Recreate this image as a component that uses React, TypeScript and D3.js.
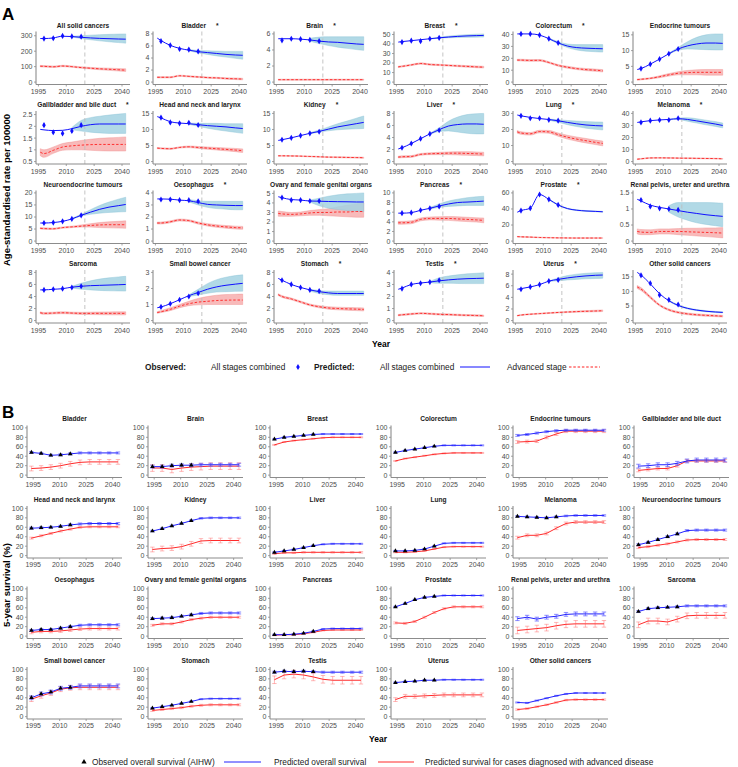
import React from 'react';
import * as d3 from 'd3';

const W = 738;
const H = 767;
const NARROW = '"Liberation Sans Narrow", "Arial Narrow", "Liberation Sans", Arial, sans-serif';
const SANS = '"Liberation Sans", Arial, sans-serif';

// ---------- Panel A: age-standardised incidence ----------
const A_NAMES = [
  'All solid cancers', 'Bladder', 'Brain', 'Breast', 'Colorectum', 'Endocrine tumours',
  'Gallbladder and bile duct', 'Head and neck and larynx', 'Kidney', 'Liver', 'Lung', 'Melanoma',
  'Neuroendocrine tumours', 'Oesophagus', 'Ovary and female genital organs', 'Pancreas', 'Prostate', 'Renal pelvis, ureter and urethra',
  'Sarcoma', 'Small bowel cancer', 'Stomach', 'Testis', 'Uterus', 'Other solid cancers',
];
const A_STAR = [0, 1, 1, 1, 1, 0, 1, 0, 1, 1, 1, 1, 0, 1, 0, 1, 1, 0, 0, 0, 1, 1, 1, 0];
const A_TICKS = [
  [0, 100, 200, 300], [0, 2, 4, 6, 8], [0, 2, 4, 6], [0, 10, 20, 30, 40, 50], [0, 10, 20, 30, 40], [0, 5, 10, 15],
  [0.5, 1, 1.5, 2, 2.5], [0, 5, 10, 15], [0, 5, 10, 15], [0, 2, 4, 6, 8], [0, 10, 20, 30], [0, 10, 20, 30, 40],
  [0, 5, 10, 15, 20], [0, 1, 2, 3, 4], [0, 1, 2, 3, 4, 5], [0, 2, 4, 6, 8, 10], [0, 20, 40, 60], [0, 0.5, 1, 1.5],
  [0, 2, 4, 6, 8], [0, 1, 2, 3], [0, 2, 4, 6, 8], [0, 1, 2, 3, 4], [0, 2, 4, 6, 8], [0, 5, 10, 15],
];
const A_YLO = [0, 0, 0, 0, 0, 0, 0.5, 0, 0, 0, 0, 0, 0, 0, 0, 0, 0, 0, 0, 0, 0, 0, 0, 0];
const A_YEARS = [1996, 1998, 2003, 2008, 2013, 2018, 2023, 2028, 2033, 2038, 2042];
const A_BAND_YEARS = [2013, 2018, 2023, 2028, 2033, 2038, 2042];
const A_OBS_YEARS = [1998, 2003, 2008, 2013, 2018];
const A_CUT_YEAR = 2020;
const A_XTICKS = [1995, 2010, 2025, 2040];

const A_BLUE = [
  [282, 282, 286, 297, 295, 290, 286, 283, 281, 279, 278],
  [7.3, 6.9, 6.1, 5.6, 5.3, 5.05, 4.9, 4.75, 4.6, 4.5, 4.45],
  [5.4, 5.4, 5.4, 5.35, 5.25, 5.1, 5.0, 4.95, 4.85, 4.75, 4.7],
  [42, 42.5, 43.5, 44.5, 45.5, 46.5, 47.3, 48, 48.5, 48.8, 49],
  [40.5, 40.5, 40.5, 39.5, 36.5, 33, 30.3, 29, 28.5, 28.2, 28],
  [4, 4.3, 5.7, 7.3, 9, 10.5, 11.5, 12.1, 12.4, 12.4, 12.3],
  [1.87, 1.85, 1.82, 1.83, 1.9, 2.0, 2.07, 2.1, 2.1, 2.1, 2.1],
  [14, 13.6, 12.4, 12, 11.8, 11.5, 11.2, 11, 10.8, 10.5, 10.3],
  [6.6, 6.8, 7.4, 8.1, 8.8, 9.4, 10.1, 10.8, 11.3, 11.8, 12.2],
  [2.1, 2.3, 3.0, 3.8, 4.6, 5.3, 5.9, 6.15, 6.25, 6.25, 6.2],
  [29, 28.5, 27.5, 26.8, 26.2, 25.4, 24.4, 23.5, 22.8, 22.4, 22.2],
  [32.5, 33, 34, 34.6, 35.0, 35.6, 35.0, 33.8, 32.5, 31.2, 30],
  [7.5, 7.5, 7.7, 8.2, 9.2, 10.7, 12.0, 13.2, 14.1, 14.7, 15.2],
  [3.5, 3.5, 3.48, 3.4, 3.35, 3.2, 3.05, 3.0, 2.97, 2.95, 2.95],
  [4.65, 4.55, 4.35, 4.3, 4.2, 4.18, 4.15, 4.13, 4.12, 4.1, 4.1],
  [5.8, 5.8, 5.9, 6.4, 6.8, 7.3, 7.7, 8.0, 8.1, 8.2, 8.3],
  [36, 38, 41, 58, 52, 45, 40.5, 38.5, 37.5, 37, 36.5],
  [1.3, 1.25, 1.12, 1.05, 1.0, 0.95, 0.9, 0.86, 0.82, 0.79, 0.77],
  [5.1, 5.1, 5.2, 5.3, 5.55, 5.7, 5.8, 5.85, 5.9, 5.95, 6.0],
  [0.8, 0.85, 1.05, 1.3, 1.55, 1.75, 1.95, 2.1, 2.2, 2.27, 2.32],
  [7.0, 6.7, 6.0, 5.5, 5.1, 4.8, 4.6, 4.5, 4.5, 4.5, 4.5],
  [2.6, 2.7, 3.0, 3.12, 3.2, 3.3, 3.38, 3.44, 3.48, 3.5, 3.52],
  [5.4, 5.5, 5.8, 6.2, 6.8, 7.1, 7.35, 7.55, 7.7, 7.8, 7.85],
  [16.5, 15.6, 12.6, 9.2, 6.8, 5.2, 4.2, 3.6, 3.2, 2.95, 2.8],
];
const A_BLUE_LO = [
  [292, 282, 274, 267, 261, 256, 252],
  [5.2, 4.85, 4.6, 4.35, 4.15, 3.95, 3.8],
  [5.1, 4.8, 4.55, 4.35, 4.2, 4.05, 3.95],
  [45.2, 46, 46.5, 46.8, 47, 47.2, 47.3],
  [36, 32.3, 29, 27, 26, 25.5, 25.2],
  [8.8, 10.1, 10.5, 10.4, 10.3, 10.2, 10.2],
  [1.85, 1.8, 1.75, 1.72, 1.7, 1.7, 1.7],
  [11.6, 11.0, 10.4, 9.9, 9.5, 9.1, 8.8],
  [8.6, 9.2, 9.6, 9.9, 10.1, 10.2, 10.3],
  [4.5, 5.0, 5.1, 4.9, 4.7, 4.6, 4.6],
  [25.8, 24.5, 23.0, 21.8, 20.8, 20.1, 19.7],
  [34.8, 35.0, 33.5, 32.0, 30.5, 29.2, 28.0],
  [9.0, 10.4, 11.1, 11.6, 11.9, 12.1, 12.2],
  [3.25, 3.0, 2.8, 2.7, 2.65, 2.6, 2.6],
  [4.1, 3.7, 3.45, 3.3, 3.2, 3.15, 3.1],
  [6.6, 7.0, 7.2, 7.3, 7.4, 7.4, 7.4],
  [51.5, 44.5, 40, 38, 37, 36.5, 36],
  [0.9, 0.75, 0.65, 0.57, 0.52, 0.48, 0.45],
  [5.4, 5.2, 5.1, 5.0, 4.95, 4.92, 4.9],
  [1.5, 1.6, 1.7, 1.78, 1.8, 1.82, 1.83],
  [4.9, 4.5, 4.3, 4.2, 4.2, 4.2, 4.2],
  [3.15, 3.1, 3.1, 3.08, 3.07, 3.07, 3.07],
  [6.75, 6.85, 7.0, 7.1, 7.2, 7.25, 7.3],
  [6.6, 5.0, 4.0, 3.4, 3.0, 2.75, 2.6],
];
const A_BLUE_HI = [
  [297, 300, 304, 307, 309, 311, 312],
  [5.4, 5.25, 5.2, 5.15, 5.1, 5.1, 5.1],
  [5.45, 5.6, 5.65, 5.65, 5.65, 5.65, 5.65],
  [45.8, 47.2, 48.3, 49.2, 49.8, 50.3, 50.6],
  [37, 34, 32, 31.5, 31.5, 31.5, 31.5],
  [9.2, 11, 12.8, 14.2, 15, 15.3, 15.3],
  [1.95, 2.25, 2.37, 2.43, 2.48, 2.52, 2.55],
  [12.0, 11.9, 11.9, 11.9, 11.8, 11.8, 11.8],
  [9.0, 9.8, 10.8, 11.8, 12.6, 13.5, 14.2],
  [4.7, 5.6, 6.7, 7.4, 7.8, 7.95, 8.0],
  [26.5, 26.1, 25.6, 25.2, 24.9, 24.7, 24.6],
  [35.2, 36.2, 36.4, 35.6, 34.4, 33.2, 32.0],
  [9.4, 11.1, 13.0, 14.8, 16.2, 17.4, 18.2],
  [3.45, 3.35, 3.3, 3.3, 3.3, 3.3, 3.3],
  [4.3, 4.5, 4.7, 4.85, 4.95, 5.0, 5.05],
  [7.0, 7.7, 8.3, 8.7, 9.0, 9.2, 9.3],
  [52.5, 45.5, 41, 39, 38, 37.5, 37],
  [1.1, 1.2, 1.2, 1.2, 1.2, 1.19, 1.18],
  [5.7, 6.2, 6.6, 6.9, 7.1, 7.25, 7.35],
  [1.6, 1.95, 2.3, 2.55, 2.7, 2.8, 2.85],
  [5.2, 5.0, 4.9, 4.9, 4.9, 4.9, 4.9],
  [3.25, 3.55, 3.7, 3.8, 3.88, 3.93, 3.97],
  [6.85, 7.35, 7.75, 8.0, 8.15, 8.25, 8.3],
  [7.0, 5.4, 4.4, 3.8, 3.4, 3.15, 3.0],
];
const A_RED = [
  [103, 102, 99, 104, 100, 94, 90, 86, 83, 80, 77],
  [0.8, 0.8, 0.8, 1.05, 0.95, 0.85, 0.75, 0.7, 0.6, 0.55, 0.5],
  [0.3, 0.3, 0.3, 0.3, 0.3, 0.3, 0.3, 0.3, 0.3, 0.3, 0.3],
  [16, 16.5, 18, 19.5, 18.5, 18, 17.5, 17, 16.5, 16, 15.7],
  [18.5, 18.5, 18.2, 18.3, 16.5, 14, 12.5, 11.3, 10.5, 10, 9.5],
  [0.8, 0.9, 1.2, 1.7, 2.3, 2.8, 3.0, 3.1, 3.1, 3.1, 3.1],
  [0.9, 0.84, 0.98, 1.12, 1.17, 1.2, 1.22, 1.23, 1.23, 1.23, 1.23],
  [4.2, 4.1, 4.0, 4.4, 4.6, 4.4, 4.2, 4.0, 3.8, 3.6, 3.4],
  [1.8, 1.8, 1.75, 1.7, 1.6, 1.5, 1.4, 1.35, 1.3, 1.25, 1.2],
  [0.75, 0.8, 0.85, 1.2, 1.3, 1.35, 1.4, 1.4, 1.35, 1.3, 1.25],
  [18.5, 17.8, 17.3, 18.7, 18.5, 16.8, 15.2, 14, 13, 12, 11.3],
  [2, 2.3, 3, 3.1, 3, 2.9, 2.8, 2.7, 2.6, 2.5, 2.3],
  [5.3, 5.2, 5.1, 5.6, 5.9, 6.2, 6.5, 6.7, 6.8, 6.8, 6.8],
  [1.5, 1.5, 1.6, 1.75, 1.7, 1.5, 1.35, 1.25, 1.18, 1.12, 1.1],
  [2.9, 2.85, 2.8, 2.85, 2.95, 3.0, 3.0, 3.05, 3.05, 3.1, 3.1],
  [3.8, 3.8, 3.9, 4.5, 4.7, 4.7, 4.7, 4.6, 4.5, 4.4, 4.3],
  [5.5, 5.3, 5.0, 4.5, 4.2, 4.0, 3.9, 3.8, 3.8, 3.8, 3.8],
  [0.3, 0.28, 0.27, 0.3, 0.3, 0.3, 0.29, 0.28, 0.27, 0.26, 0.25],
  [1.3, 1.2, 1.25, 1.3, 1.25, 1.2, 1.2, 1.2, 1.2, 1.2, 1.2],
  [0.5, 0.55, 0.7, 0.9, 1.05, 1.15, 1.2, 1.25, 1.27, 1.28, 1.28],
  [4.3, 4.0, 3.6, 3.1, 2.6, 2.3, 2.1, 2.0, 1.95, 1.9, 1.85],
  [0.45, 0.48, 0.55, 0.6, 0.57, 0.52, 0.5, 0.47, 0.44, 0.42, 0.4],
  [0.85, 0.95, 1.1, 1.2, 1.3, 1.4, 1.48, 1.55, 1.6, 1.65, 1.7],
  [11.5, 10.8, 8.0, 5.3, 3.7, 2.8, 2.3, 2.0, 1.8, 1.65, 1.5],
];
const A_RED_LO = [
  [98, 97, 95, 100, 96, 90, 85, 80, 76, 72, 69],
  [0.7, 0.7, 0.7, 0.95, 0.85, 0.75, 0.65, 0.58, 0.48, 0.42, 0.37],
  [0.24, 0.24, 0.24, 0.24, 0.24, 0.24, 0.24, 0.24, 0.24, 0.24, 0.24],
  [15.3, 15.8, 17.3, 18.8, 17.8, 17.3, 16.8, 16.2, 15.7, 15.1, 14.8],
  [17.8, 17.8, 17.5, 17.6, 15.8, 13.3, 11.7, 10.5, 9.6, 9.1, 8.5],
  [0.6, 0.7, 1.0, 1.4, 1.9, 2.3, 2.3, 2.3, 2.2, 2.2, 2.2],
  [0.75, 0.68, 0.85, 0.98, 1.0, 1.0, 0.98, 0.96, 0.95, 0.95, 0.95],
  [4.0, 3.9, 3.8, 4.2, 4.35, 4.1, 3.85, 3.6, 3.35, 3.1, 2.85],
  [1.68, 1.68, 1.63, 1.58, 1.48, 1.38, 1.27, 1.21, 1.15, 1.09, 1.03],
  [0.6, 0.65, 0.7, 1.05, 1.15, 1.15, 1.15, 1.1, 1.05, 1.0, 0.95],
  [17.7, 17.0, 16.5, 17.9, 17.6, 15.8, 14.0, 12.7, 11.6, 10.6, 9.8],
  [1.7, 2.0, 2.7, 2.8, 2.7, 2.6, 2.5, 2.4, 2.3, 2.2, 2.0],
  [5.0, 4.9, 4.8, 5.3, 5.6, 5.8, 5.8, 5.6, 5.5, 5.4, 5.3],
  [1.42, 1.42, 1.52, 1.67, 1.62, 1.41, 1.25, 1.14, 1.07, 1.0, 0.98],
  [2.6, 2.6, 2.6, 2.65, 2.7, 2.7, 2.65, 2.6, 2.55, 2.5, 2.5],
  [3.5, 3.5, 3.6, 4.2, 4.4, 4.35, 4.3, 4.15, 4.05, 3.95, 3.8],
  [5.1, 4.9, 4.6, 4.1, 3.8, 3.6, 3.5, 3.4, 3.4, 3.4, 3.4],
  [0.22, 0.2, 0.2, 0.22, 0.22, 0.2, 0.18, 0.16, 0.14, 0.12, 0.1],
  [1.15, 1.05, 1.1, 1.15, 1.1, 1.03, 1.0, 0.98, 0.96, 0.95, 0.95],
  [0.45, 0.5, 0.62, 0.8, 0.93, 0.98, 1.0, 1.0, 1.0, 1.0, 1.0],
  [4.15, 3.85, 3.45, 2.95, 2.45, 2.12, 1.9, 1.78, 1.72, 1.66, 1.6],
  [0.39, 0.42, 0.49, 0.54, 0.51, 0.46, 0.44, 0.41, 0.38, 0.36, 0.34],
  [0.77, 0.87, 1.02, 1.12, 1.22, 1.31, 1.38, 1.44, 1.48, 1.52, 1.56],
  [11.0, 10.3, 7.6, 5.0, 3.4, 2.5, 2.0, 1.7, 1.5, 1.35, 1.2],
];
const A_RED_HI = [
  [108, 107, 104, 109, 105, 99, 95, 92, 90, 88, 86],
  [0.9, 0.9, 0.9, 1.15, 1.05, 0.95, 0.85, 0.8, 0.72, 0.68, 0.63],
  [0.36, 0.36, 0.36, 0.36, 0.36, 0.36, 0.36, 0.36, 0.36, 0.36, 0.36],
  [16.7, 17.2, 18.7, 20.2, 19.2, 18.7, 18.2, 17.8, 17.3, 16.9, 16.6],
  [19.2, 19.2, 18.9, 19.0, 17.2, 14.7, 13.3, 12.1, 11.4, 10.9, 10.5],
  [1.0, 1.1, 1.4, 2.0, 2.7, 3.3, 3.7, 3.9, 4.0, 4.0, 4.0],
  [1.05, 1.0, 1.12, 1.27, 1.33, 1.4, 1.45, 1.49, 1.51, 1.53, 1.55],
  [4.4, 4.3, 4.2, 4.6, 4.85, 4.7, 4.55, 4.4, 4.25, 4.1, 3.95],
  [1.92, 1.92, 1.87, 1.82, 1.72, 1.62, 1.53, 1.49, 1.45, 1.41, 1.37],
  [0.9, 0.95, 1.0, 1.35, 1.45, 1.55, 1.6, 1.65, 1.65, 1.6, 1.55],
  [19.3, 18.6, 18.1, 19.5, 19.4, 17.8, 16.4, 15.3, 14.4, 13.4, 12.8],
  [2.3, 2.6, 3.3, 3.4, 3.3, 3.2, 3.1, 3.0, 2.9, 2.8, 2.6],
  [5.6, 5.5, 5.4, 5.9, 6.2, 6.7, 7.2, 7.7, 8.0, 8.2, 8.4],
  [1.58, 1.58, 1.68, 1.83, 1.78, 1.59, 1.45, 1.36, 1.29, 1.24, 1.22],
  [3.15, 3.1, 3.0, 3.05, 3.2, 3.3, 3.4, 3.6, 3.75, 3.9, 4.0],
  [4.1, 4.1, 4.2, 4.8, 5.0, 5.05, 5.1, 5.05, 4.95, 4.85, 4.8],
  [5.9, 5.7, 5.4, 4.9, 4.6, 4.4, 4.3, 4.2, 4.2, 4.2, 4.2],
  [0.38, 0.36, 0.35, 0.38, 0.38, 0.39, 0.4, 0.4, 0.41, 0.41, 0.42],
  [1.45, 1.35, 1.4, 1.45, 1.4, 1.37, 1.4, 1.42, 1.44, 1.45, 1.45],
  [0.56, 0.62, 0.8, 1.0, 1.2, 1.38, 1.5, 1.58, 1.62, 1.64, 1.65],
  [4.45, 4.15, 3.75, 3.25, 2.75, 2.48, 2.3, 2.22, 2.18, 2.14, 2.1],
  [0.51, 0.54, 0.61, 0.66, 0.63, 0.58, 0.56, 0.53, 0.5, 0.48, 0.46],
  [0.93, 1.03, 1.18, 1.28, 1.38, 1.49, 1.58, 1.66, 1.72, 1.78, 1.84],
  [12.0, 11.3, 8.4, 5.6, 4.0, 3.1, 2.6, 2.3, 2.1, 1.95, 1.8],
];
const A_OBS = [
  [282, 284, 299, 296, 294], [6.8, 6.1, 5.5, 5.4, 5.1], [5.2, 5.4, 5.35, 5.25, 5.1],
  [42, 43.5, 43, 45.5, 46.5], [40.5, 40.5, 39.5, 36.5, 33], [4.3, 5.7, 7.3, 9, 10.5],
  [2.05, 1.75, 1.7, 1.8, 2.05], [13.7, 12.2, 11.9, 12.1, 11.4], [6.8, 7.4, 8.1, 8.8, 9.3],
  [2.3, 3.0, 3.8, 4.6, 5.2], [28.5, 27, 27, 26, 25.5], [32.5, 34, 34.5, 34.5, 36],
  [7.5, 7.7, 8.2, 9.2, 10.7], [3.45, 3.45, 3.4, 3.4, 3.3], [4.55, 4.3, 4.3, 4.2, 4.2],
  [5.8, 5.9, 6.4, 6.8, 7.2], [38, 41, 58, 52, 45], [1.28, 1.08, 1.02, 1.0, 0.97],
  [5.1, 5.2, 5.3, 5.5, 5.7], [0.85, 1.05, 1.3, 1.5, 1.7], [6.7, 6.0, 5.5, 5.1, 4.9],
  [2.65, 3.0, 3.1, 3.2, 3.35], [5.4, 5.8, 6.2, 6.8, 7.0], [15.5, 12.8, 8.8, 7.1, 5.5],
];
const A_OBS_ERR = [4, 0.12, 0.1, 0.6, 0.4, 0.2, 0.08, 0.25, 0.15, 0.12, 0.4, 0.5, 0.25, 0.06, 0.08, 0.12, 0.8, 0.04, 0.12, 0.05, 0.12, 0.06, 0.12, 0.3];

// ---------- Panel B: 5-year survival ----------
const B_NAMES = [
  'Bladder', 'Brain', 'Breast', 'Colorectum', 'Endocrine tumours', 'Gallbladder and bile duct',
  'Head and neck and larynx', 'Kidney', 'Liver', 'Lung', 'Melanoma', 'Neuroendocrine tumours',
  'Oesophagus', 'Ovary and female genital organs', 'Pancreas', 'Prostate', 'Renal pelvis, ureter and urethra', 'Sarcoma',
  'Small bowel cancer', 'Stomach', 'Testis', 'Uterus', 'Other solid cancers',
];
const B_YEARS = [1994, 1999.5, 2005, 2010.5, 2016, 2021.5, 2027, 2032.5, 2038, 2043];
const B_TICKS = [0, 20, 40, 60, 80, 100];
const B_BLUE = [
  [48, 46, 42, 43, 45, 47, 47, 47, 47, 47],
  [18, 18, 20, 21, 21, 22, 22, 22, 22, 22],
  [76, 80, 82, 84, 86, 87, 87, 87, 87, 87],
  [48, 52, 55, 58, 61, 63, 63, 63, 63, 63],
  [84, 86, 89, 92, 94, 95, 95, 95, 95, 95],
  [19, 20, 22, 22, 25, 30, 32, 32, 32, 32],
  [58, 59, 60, 62, 65, 67, 68, 68, 68, 68],
  [52, 57, 63, 68, 74, 79, 80, 80, 80, 80],
  [7, 10, 13, 17, 21, 24, 25, 25, 25, 25],
  [10, 10, 11, 14, 20, 26, 27, 27, 27, 27],
  [83, 82, 81, 80, 82, 84, 85, 85, 85, 85],
  [23, 28, 34, 40, 46, 53, 54, 54, 54, 54],
  [12, 14, 14, 17, 20, 23, 24, 24, 24, 24],
  [37, 38, 39, 42, 45, 48, 49, 49, 49, 49],
  [3, 3, 4, 6, 10, 15, 16, 16, 16, 16],
  [62, 69, 77, 82, 84, 86, 86, 86, 86, 86],
  [37, 40, 36, 40, 42, 46, 47, 47, 47, 47],
  [52, 58, 60, 61, 62, 64, 64, 64, 64, 64],
  [40, 48, 52, 60, 62, 65, 65, 65, 65, 65],
  [18, 21, 24, 28, 32, 37, 38, 38, 38, 38],
  [94, 96, 95, 96, 95, 94, 94, 94, 94, 94],
  [72, 74, 75, 77, 77, 78, 78, 78, 78, 78],
  [30, 29, 34, 39, 44, 48, 50, 50, 50, 50],
];
const B_RED = [
  [14, 15, 17, 20, 24, 27, 28, 28, 28, 28],
  [15, 15, 12, 15, 17, 18, 19, 19, 19, 19],
  [64, 70, 73, 75, 77, 79, 80, 80, 80, 80],
  [30, 35, 38, 41, 44, 46, 47, 47, 47, 47],
  [70, 71, 72, 80, 87, 93, 93, 93, 93, 93],
  [10, 12, 14, 14, 20, 30, 30, 30, 30, 30],
  [37, 42, 47, 52, 56, 60, 61, 61, 61, 61],
  [13, 15, 16, 19, 25, 31, 32, 32, 32, 32],
  [4, 6, 6, 7, 7, 7, 7, 7, 7, 7],
  [7, 7, 8, 10, 14, 18, 19, 19, 19, 19],
  [38, 43, 43, 47, 58, 68, 71, 71, 71, 71],
  [17, 19, 22, 25, 29, 33, 34, 34, 34, 34],
  [8, 10, 10, 11, 13, 15, 16, 16, 16, 16],
  [23, 26, 26, 30, 35, 38, 40, 40, 40, 40],
  [2, 3, 3, 5, 8, 12, 13, 13, 13, 13],
  [28, 27, 31, 40, 50, 58, 62, 62, 62, 62],
  [12, 14, 16, 18, 22, 25, 26, 26, 26, 26],
  [24, 32, 32, 30, 36, 43, 44, 44, 44, 44],
  [37, 44, 50, 58, 61, 62, 62, 62, 62, 62],
  [13, 15, 17, 19, 22, 24, 25, 25, 25, 25],
  [78, 88, 90, 88, 84, 79, 77, 77, 77, 77],
  [36, 43, 43, 44, 45, 46, 46, 46, 46, 46],
  [15, 17, 21, 25, 30, 35, 36, 36, 36, 36],
];
const B_OBS = [
  [48, 46, 42, 43, 45], [18, 18, 20, 21, 21], [76, 80, 82, 84, 86], [48, 52, 55, 58, 61], [], [],
  [58, 59, 60, 62, 65], [52, 57, 63, 68, 74], [7, 10, 13, 17, 21], [10, 10, 11, 14, 20], [83, 82, 81, 80, 82], [23, 28, 34, 40, 46],
  [12, 14, 14, 17, 20], [37, 38, 39, 42, 45], [3, 3, 4, 6, 10], [62, 69, 77, 82, 84], [], [52, 58, 60, 61, 62],
  [40, 48, 52, 60, 62], [18, 21, 24, 28, 32], [94, 96, 95, 96, 95], [72, 74, 75, 77, 77], [],
];
const B_BLUE_ERR = [2, 3, 1, 1, 2, 4, 2, 1.5, 1, 1, 1.5, 2, 2, 2, 1, 1, 4, 2, 4, 1, 2, 1, 1];
const B_RED_ERR = [5, 7, 1, 1, 3, 3, 2, 5, 1.5, 1, 3, 2, 3, 2, 1, 2, 7, 6, 5, 2, 8, 4, 1.5];

// ---------- layout ----------
const A_COLS = [36, 153, 274, 394, 513, 633];
const A_PW = 94;
const A_TITLE_Y = [25, 104.5, 184, 263.5];
const A_PH = 53;
const B_COLS = [27, 148, 270, 391, 513, 634];
const B_PW = 95;
const B_TITLE_Y = [418.5, 499, 579.5, 660];
const B_PH = 52;

const AXIS = '#8c8c8c';
const TICK_TXT = '#4d4d4d';

const fmt = (v: number) => String(v);

function PanelA({ i }: { i: number }) {
  const col = i % 6;
  const row = Math.floor(i / 6);
  const x0 = A_COLS[col];
  const top = A_TITLE_Y[row] + 6.5;
  const bottom = top + A_PH;
  const x = d3.scaleLinear().domain([1993.7, 2044.3]).range([x0, x0 + A_PW]);
  const hi = d3.max([...A_BLUE_HI[i], ...A_RED_HI[i], ...A_BLUE[i], ...A_OBS[i], ...A_TICKS[i]]) as number;
  const lo = A_YLO[i];
  const pad = (hi - lo) * 0.05;
  const y = d3.scaleLinear().domain([lo - pad, hi + pad]).range([bottom, top]);

  const line = d3.line<[number, number]>().x(d => x(d[0])).y(d => y(d[1])).curve(d3.curveMonotoneX);
  const area = d3.area<[number, number, number]>().x(d => x(d[0])).y0(d => y(d[1])).y1(d => y(d[2])).curve(d3.curveMonotoneX);

  const blue = A_YEARS.map((yr, k) => [yr, A_BLUE[i][k]] as [number, number]);
  const red = A_YEARS.map((yr, k) => [yr, A_RED[i][k]] as [number, number]);
  const redBand = A_YEARS.map((yr, k) => [yr, A_RED_LO[i][k], A_RED_HI[i][k]] as [number, number, number]);
  const blueBand = A_BAND_YEARS.map((yr, k) => [yr, A_BLUE_LO[i][k], A_BLUE_HI[i][k]] as [number, number, number]);
  const diamond = d3.symbol(d3.symbolDiamond, 11)();
  const err = A_OBS_ERR[i];

  return (
    <g>
      <text x={x0 + A_PW / 2} y={A_TITLE_Y[row] + 2.5} textAnchor="middle" fontFamily={NARROW}
        fontWeight="bold" fontSize={6.6} fill="#1a1a1a">
        {A_NAMES[i]}{A_STAR[i] ? <tspan dx={10}>*</tspan> : null}
      </text>
      <path d={area(redBand) || ''} fill="#f5a3a3" fillOpacity={0.75} stroke="#f08a8a" strokeWidth={0.4} />
      <path d={area(blueBand) || ''} fill="#a3d2e2" fillOpacity={0.85} stroke="#86c0d4" strokeWidth={0.4} />
      <line x1={x(A_CUT_YEAR)} x2={x(A_CUT_YEAR)} y1={top} y2={bottom} stroke="#bdbdbd" strokeWidth={0.9} strokeDasharray="4,3" />
      <path d={line(red) || ''} fill="none" stroke="#ff2020" strokeWidth={0.9} strokeDasharray="2.5,1.8" />
      <path d={line(blue) || ''} fill="none" stroke="#1010ff" strokeWidth={1} />
      {A_OBS_YEARS.map((yr, k) => (
        <g key={k}>
          <line x1={x(yr)} x2={x(yr)} y1={y(A_OBS[i][k] - err)} y2={y(A_OBS[i][k] + err)} stroke="#1010ff" strokeWidth={0.8} />
          <path d={diamond || ''} transform={`translate(${x(yr)},${y(A_OBS[i][k])})`} fill="#1010ff" />
        </g>
      ))}
      <line x1={x0} x2={x0} y1={top} y2={bottom} stroke={AXIS} strokeWidth={1.1} />
      <line x1={x0} x2={x0 + A_PW} y1={bottom} y2={bottom} stroke={AXIS} strokeWidth={1.1} />
      {A_TICKS[i].map(t => (
        <g key={t}>
          <line x1={x0 - 2} x2={x0} y1={y(t)} y2={y(t)} stroke={AXIS} strokeWidth={0.8} />
          <text x={x0 - 3.5} y={y(t)} dy="0.35em" textAnchor="end" fontFamily={NARROW} fontSize={7} fill={TICK_TXT}>{fmt(t)}</text>
        </g>
      ))}
      {A_XTICKS.map(t => (
        <g key={t}>
          <line x1={x(t)} x2={x(t)} y1={bottom} y2={bottom + 2} stroke={AXIS} strokeWidth={0.8} />
          <text x={x(t)} y={bottom + 9.5} textAnchor="middle" fontFamily={NARROW} fontSize={7} fill={TICK_TXT}>{t}</text>
        </g>
      ))}
    </g>
  );
}

function PanelB({ i }: { i: number }) {
  const col = i % 6;
  const row = Math.floor(i / 6);
  const x0 = B_COLS[col];
  const top = B_TITLE_Y[row] + 7;
  const bottom = top + B_PH;
  const x = d3.scaleLinear().domain([1991.5, 2045.3]).range([x0, x0 + B_PW]);
  const y = d3.scaleLinear().domain([-5, 105]).range([bottom, top]);
  const line = d3.line<[number, number]>().x(d => x(d[0])).y(d => y(d[1]));
  const blue = B_YEARS.map((yr, k) => [yr, B_BLUE[i][k]] as [number, number]);
  const red = B_YEARS.map((yr, k) => [yr, B_RED[i][k]] as [number, number]);
  const tri = d3.symbol(d3.symbolTriangle, 9)();
  const be = B_BLUE_ERR[i];
  const re = B_RED_ERR[i];

  const errBar = (xv: number, v: number, e: number, color: string, op: number, w: number, key: string) => (
    <g key={key} stroke={color} strokeOpacity={op} strokeWidth={w}>
      <line x1={x(xv)} x2={x(xv)} y1={y(v - e)} y2={y(v + e)} />
      <line x1={x(xv) - 2.2} x2={x(xv) + 2.2} y1={y(v - e)} y2={y(v - e)} />
      <line x1={x(xv) - 2.2} x2={x(xv) + 2.2} y1={y(v + e)} y2={y(v + e)} />
    </g>
  );

  return (
    <g>
      <text x={x0 + B_PW / 2} y={B_TITLE_Y[row] + 2.5} textAnchor="middle" fontFamily={NARROW}
        fontWeight="bold" fontSize={6.6} fill="#1a1a1a">{B_NAMES[i]}</text>
      {B_YEARS.map((yr, k) => errBar(yr, B_RED[i][k], re, '#ff6f6f', 0.55, 0.9, 'r' + k))}
      <path d={line(red) || ''} fill="none" stroke="#ff2a2a" strokeWidth={1} />
      {B_YEARS.map((yr, k) => errBar(yr, B_BLUE[i][k], be, '#5a5aff', 0.65, 1.1, 'b' + k))}
      <path d={line(blue) || ''} fill="none" stroke="#2222ff" strokeWidth={1} />
      {B_OBS[i].map((v, k) => (
        <path key={k} d={tri || ''} transform={`translate(${x(B_YEARS[k])},${y(v)})`} fill="#000" />
      ))}
      <line x1={x0} x2={x0} y1={top} y2={bottom} stroke={AXIS} strokeWidth={1.1} />
      <line x1={x0} x2={x0 + B_PW} y1={bottom} y2={bottom} stroke={AXIS} strokeWidth={1.1} />
      {B_TICKS.map(t => (
        <g key={t}>
          <line x1={x0 - 2} x2={x0} y1={y(t)} y2={y(t)} stroke={AXIS} strokeWidth={0.8} />
          <text x={x0 - 3.5} y={y(t)} dy="0.35em" textAnchor="end" fontFamily={NARROW} fontSize={7} fill={TICK_TXT}>{t}</text>
        </g>
      ))}
      {A_XTICKS.map(t => (
        <g key={t}>
          <line x1={x(t)} x2={x(t)} y1={bottom} y2={bottom + 2} stroke={AXIS} strokeWidth={0.8} />
          <text x={x(t)} y={bottom + 9} textAnchor="middle" fontFamily={NARROW} fontSize={7} fill={TICK_TXT}>{t}</text>
        </g>
      ))}
    </g>
  );
}

export default function App() {
  const diamond = d3.symbol(d3.symbolDiamond, 11)();
  const tri = d3.symbol(d3.symbolTriangle, 12)();
  const ly = 367;
  const by = 762;
  return (
    <svg width={W} height={H} style={{ position: 'absolute', left: 0, top: 0, background: '#fff' }}>
      <rect width={W} height={H} fill="#fff" />
      <text x={2} y={20} fontFamily={SANS} fontWeight="bold" fontSize={17}>A</text>
      <text x={2} y={418} fontFamily={SANS} fontWeight="bold" fontSize={17}>B</text>

      {A_NAMES.map((_, i) => <PanelA key={i} i={i} />)}
      <text transform="translate(10,190) rotate(-90)" textAnchor="middle" fontFamily={NARROW} fontWeight="bold" fontSize={9.5}>
        Age-standardised rate per 100000
      </text>
      <text x={381} y={347} textAnchor="middle" fontFamily={NARROW} fontWeight="bold" fontSize={8.5}>Year</text>

      <g fontFamily={NARROW} fontSize={8.3} fill="#1a1a1a">
        <text x={145} y={ly + 3} fontWeight="bold">Observed:</text>
        <text x={211} y={ly + 3}>All stages combined</text>
        <path d={diamond || ''} transform={`translate(298,${ly})`} fill="#1010ff" />
        <text x={314} y={ly + 3} fontWeight="bold">Predicted:</text>
        <text x={380} y={ly + 3}>All stages combined</text>
        <line x1={460} x2={490} y1={ly} y2={ly} stroke="#1010ff" strokeWidth={1} />
        <text x={507} y={ly + 3}>Advanced stage</text>
        <line x1={569} x2={600} y1={ly} y2={ly} stroke="#ff2020" strokeWidth={1} strokeDasharray="2.5,1.8" />
      </g>

      {B_NAMES.map((_, i) => <PanelB key={i} i={i} />)}
      <text transform="translate(10,585) rotate(-90)" textAnchor="middle" fontFamily={NARROW} fontWeight="bold" fontSize={9.5}>
        5-year survival (%)
      </text>
      <text x={378} y={742} textAnchor="middle" fontFamily={NARROW} fontWeight="bold" fontSize={8.5}>Year</text>

      <g fontFamily={NARROW} fontSize={8.3} fill="#1a1a1a">
        <path d={tri || ''} transform={`translate(84,${by})`} fill="#000" />
        <text x={92} y={by + 3}>Observed overall survival (AIHW)</text>
        <line x1={224} x2={261} y1={by} y2={by} stroke="#2222ff" strokeWidth={1} />
        <text x={274} y={by + 3}>Predicted overall survival</text>
        <line x1={378} x2={414} y1={by} y2={by} stroke="#ff2a2a" strokeWidth={1} />
        <text x={425} y={by + 3}>Predicted survival for cases diagnosed with advanced disease</text>
      </g>
    </svg>
  );
}
